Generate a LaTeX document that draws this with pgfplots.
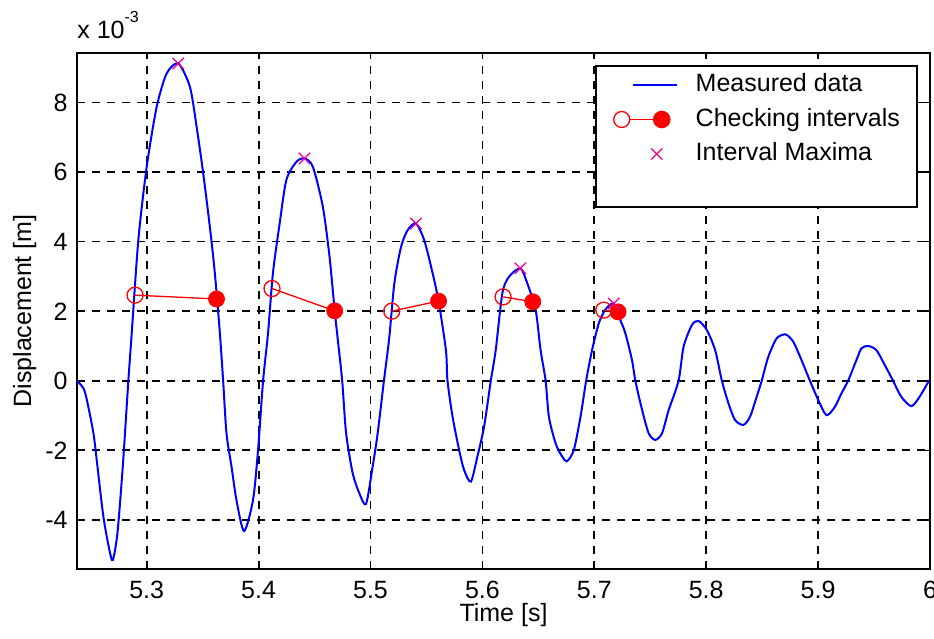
\documentclass[border=0pt]{standalone}
\usepackage{fontspec}
\setmainfont{Liberation Sans}
\usepackage{pgfplots}
\pgfplotsset{compat=1.18}
\begin{document}
\begin{tikzpicture}
\begin{axis}[
  scale only axis, width=426.5pt, height=258pt,
  xmin=5.2377, xmax=6.0, ymin=-5.41, ymax=9.42,
  xtick={5.3,5.4,5.5,5.6,5.7,5.8,5.9,6.0},
  xticklabels={5.3,5.4,5.5,5.6,5.7,5.8,5.9,6},
  ytick={-4,-2,0,2,4,6,8},
  yticklabels={-4,-2,0,2,4,6,8},
  tick align=inside, major tick length=3pt,
  tick style={black, line width=0.8pt},
  grid=major,
  major grid style={black, line width=0.9pt, dash pattern=on 4pt off 3.5pt},
  axis line style={black, line width=1pt},
  font=\fontsize{12.5}{15}\selectfont,
  xticklabel style={inner sep=0pt, text height=9pt, text depth=0pt, yshift=-5.5pt},
  yticklabel style={inner sep=0pt, text height=9pt, text depth=0pt, xshift=-4.5pt},
  xlabel={Time [s]}, ylabel={Displacement [m]},
  xlabel style={at={(axis description cs:0.5,-0.0659)}, anchor=north, inner sep=0pt, text height=9pt},
  ylabel style={at={(axis description cs:-0.0533,0.5)}, anchor=south, inner sep=0pt, text height=9pt, text depth=0pt},
  legend cell align=left,
  legend style={at={(1,1)}, anchor=north east, xshift=-6pt, yshift=-6pt,
    draw=black, line width=1pt, fill=white,
    inner xsep=8.5pt, inner ysep=3.75pt, row sep=5.75pt,
    font=\fontsize{12.5}{15}\selectfont,
    nodes={inner sep=0pt, text height=9pt, text depth=2.5pt},
    /tikz/every odd column/.append style={column sep=9pt}},
]
\addplot[blue, line width=1pt, smooth, tension=0.45,
  legend image code/.code={\draw[blue,line width=1pt] (9pt,0pt) -- (31pt,0pt); \path[draw=none] (0pt,0pt) -- (31pt,0pt);}]
table {
5.2378 0
5.2435 -0.22
5.2465 -0.55
5.2524 -1.51
5.2560 -2.47
5.2613 -3.91
5.2667 -4.87
5.2697 -5.15
5.2738 -4.39
5.2786 -2.47
5.2836 0
5.2866 1.36
5.2925 4.04
5.3000 6.15
5.3089 7.87
5.3178 8.83
5.3282 9.12
5.3386 8.45
5.3446 7.30
5.3505 5.96
5.3564 4.43
5.3609 3.09
5.3654 1.36
5.3683 0
5.3713 -1.51
5.3758 -2.47
5.3802 -3.43
5.3870 -4.32
5.3950 -3.43
5.3995 -1.99
5.4040 0
5.4084 1.36
5.4128 3.09
5.4188 4.52
5.4248 5.77
5.4337 6.29
5.4410 6.39
5.4485 6.15
5.4574 5.00
5.4634 3.56
5.4680 2.01
5.4708 1.17
5.4747 0
5.4782 -1.51
5.4841 -2.66
5.4901 -3.24
5.4960 -3.54
5.5019 -2.47
5.5064 -1.51
5.5120 0
5.5168 1.25
5.5213 2.80
5.5273 3.85
5.5332 4.33
5.5406 4.52
5.5480 4.04
5.5555 3.09
5.5608 2.29
5.5674 0.88
5.5688 0
5.5733 -1.03
5.5792 -1.99
5.5837 -2.57
5.5897 -2.90
5.5955 -2.18
5.6015 -1.32
5.6075 0
5.6119 0.88
5.6178 2.51
5.6238 2.99
5.6340 3.23
5.6401 2.80
5.6476 2.03
5.6520 0.88
5.6565 0
5.6594 -1.03
5.6654 -1.80
5.6713 -2.18
5.6757 -2.31
5.6817 -1.99
5.6877 -1.03
5.6927 0
5.6980 0.88
5.7040 1.65
5.7100 2.05
5.7174 2.22
5.7233 1.74
5.7278 1.36
5.7337 0.59
5.7367 0
5.7427 -0.84
5.7486 -1.51
5.7545 -1.70
5.7605 -1.51
5.7665 -0.84
5.7753 0
5.7798 0.98
5.7872 1.60
5.7931 1.72
5.8005 1.46
5.8080 0.88
5.8140 0
5.8199 -0.65
5.8258 -1.13
5.8333 -1.27
5.8392 -1.03
5.8451 -0.46
5.8496 0
5.8555 0.69
5.8630 1.22
5.8710 1.33
5.8778 1.12
5.8852 0.59
5.8927 0
5.9001 -0.55
5.9075 -0.99
5.9150 -0.75
5.9209 -0.36
5.9268 0
5.9342 0.59
5.9387 0.93
5.9447 1.00
5.9521 0.88
5.9596 0.45
5.9670 0
5.9743 -0.46
5.9833 -0.73
5.9907 -0.46
5.9990 0
};
\addlegendentry{Measured data}
\addplot[red, line width=0.65pt, forget plot] coordinates {(5.2896,2.46) (5.3624,2.35)};
\addplot[red, line width=0.65pt, forget plot] coordinates {(5.4120,2.65) (5.4680,2.01)};
\addplot[red, line width=0.65pt, forget plot] coordinates {(5.5190,2.00) (5.5608,2.29)};
\addplot[red, line width=0.65pt, forget plot] coordinates {(5.6185,2.41) (5.6450,2.27)};
\addplot[red, line width=0.65pt, forget plot] coordinates {(5.7085,2.03) (5.7212,1.98)};
\addplot[red, only marks, mark=o, mark size=4pt, mark options={line width=0.65pt}, forget plot]
  coordinates {(5.2896,2.46) (5.4120,2.65) (5.5190,2.00) (5.6185,2.41) (5.7085,2.03)};
\addplot[red, only marks, mark=*, mark size=4pt, forget plot]
  coordinates {(5.3624,2.35) (5.4680,2.01) (5.5608,2.29) (5.6450,2.27) (5.7212,1.98)};
\addlegendimage{red, legend image code/.code={
  \pgfsetstrokecolor{red}\pgfsetlinewidth{0.8pt}
  \pgfpathmoveto{\pgfqpoint{7.5pt}{0pt}}\pgfpathlineto{\pgfqpoint{19.5pt}{0pt}}\pgfusepath{stroke}
  \draw[draw=red, line width=0.65pt, fill=white] (3.5pt,0pt) circle (4pt);
  \fill[red] (23.5pt,0pt) circle (4pt);
  \path[draw=none] (0pt,0pt) -- (31pt,0pt);}}
\addlegendentry{Checking intervals}
\addplot[magenta, only marks, mark=x, mark size=4pt, mark options={line width=0.6pt},
  legend image code/.code={
  \draw[draw=magenta, line width=0.6pt] (18.2pt,-2.8pt) -- (23.8pt,2.8pt) (18.2pt,2.8pt) -- (23.8pt,-2.8pt);
  \path[draw=none] (0pt,0pt) -- (31pt,0pt);}]
  coordinates {(5.3282,9.12) (5.4410,6.39) (5.5406,4.52) (5.6340,3.23) (5.7174,2.22)};
\addlegendentry{Interval Maxima}
\addlegendimage{empty legend}
\addlegendentry{}
\end{axis}
\node[anchor=base west, inner sep=0pt, font=\fontsize{12.5}{15}\selectfont]
  at ([yshift=7pt]current axis.north west) {x 10\raisebox{8.3pt}{\fontsize{8}{10}\selectfont -3}};
\pgfresetboundingbox
\useasboundingbox ([xshift=-38.5pt,yshift=-35pt]current axis.south west) rectangle ([xshift=2pt,yshift=26.5pt]current axis.north east);
\end{tikzpicture}
\end{document}
